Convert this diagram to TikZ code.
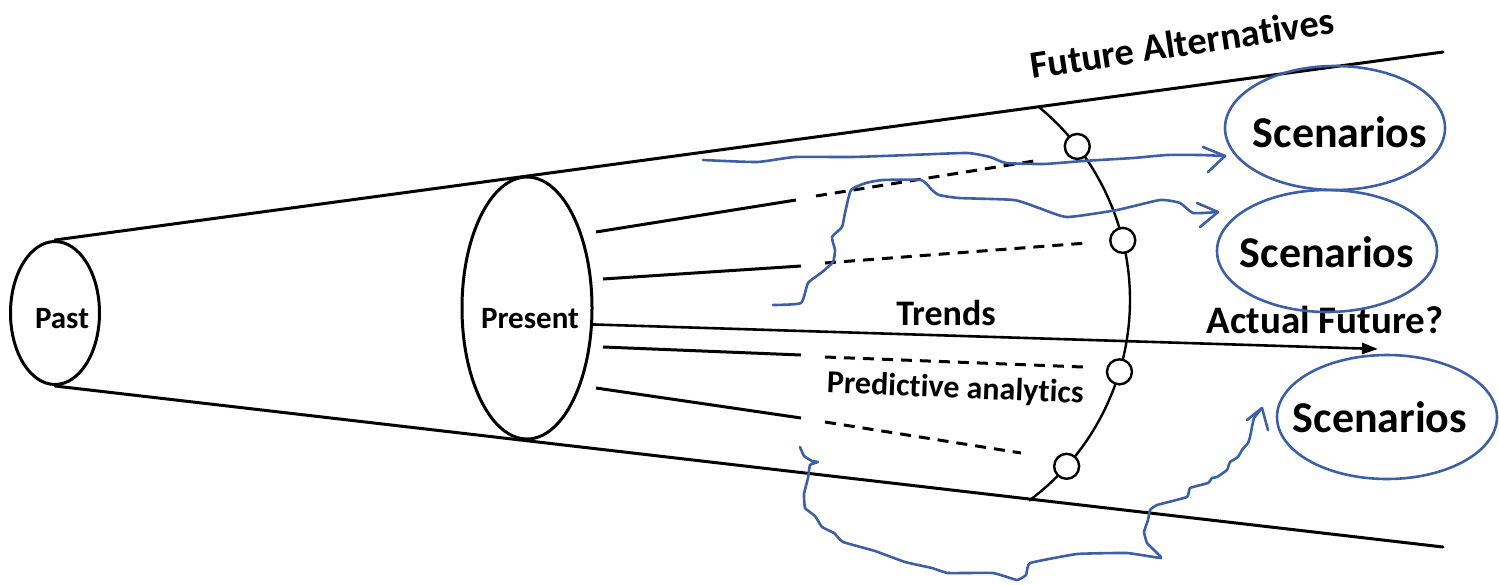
\documentclass[tikz,border=0pt]{standalone}
\usepackage{fontspec}
\setmainfont{Carlito}[Ligatures=NoCommon]
\usetikzlibrary{shapes.geometric,arrows.meta}
\definecolor{penblue}{RGB}{60,95,165}
\newcommand\lblsize[1]{\fontsize{#1}{#1}\selectfont}
\begin{document}
\begin{tikzpicture}[x=1pt,y=-1pt,
  cone/.style={line width=3pt,line cap=round},
  ring/.style={ellipse,draw,line width=3pt,inner sep=0pt},
  trend/.style={line width=3pt},
  proj/.style={line width=3pt,dash pattern=on 11pt off 8pt},
  pen/.style={draw=penblue,line width=2.6pt,line join=round,line cap=round},
  scen/.style={ellipse,draw=penblue,line width=2.6pt,minimum width=220pt,minimum height=124pt,inner sep=0pt},
  marker/.style={circle,draw,fill=white,line width=2.4pt,minimum size=25pt,inner sep=0pt},
  lbl/.style={font=\bfseries,inner sep=0pt,anchor=base}
]
\useasboundingbox (0,0) rectangle (1499,584);

% the cone: past and present cross-sections
\node[ring,minimum width=89pt,minimum height=143pt] (past) at (55,313) {};
\node[ring,minimum width=130pt,minimum height=262pt] (pres) at (527,308) {};
\coordinate (topend) at (1443,52);
\coordinate (botend) at (1443,547);
\draw[cone] (past.north) -- (topend);
\draw[cone] (past.south) -- (botend);

\node[lbl,font=\bfseries\lblsize{31}] (pastlbl) at (62,328) {Past};
\node[lbl,font=\bfseries\lblsize{31}] (preslbl) at (530,328) {Present};

% trend lines leaving the present, continued as projections
\draw[trend] (596,232) -- (796,200);
\draw[proj]  (816,196) -- (1034,161);
\draw[trend] (603,279) -- (801,266);
\draw[proj]  (825,263) -- (1087,243);
\draw[trend] (603,347) -- (801,355);
\draw[proj]  (825,357) -- (1083,367);
\draw[trend] (596,388) -- (801,418);
\draw[proj]  (825,422) -- (1021,453);

% horizon of future alternatives
\coordinate (hub) at (880,300);
\draw[line width=2.4pt] ([shift={(-50.5:250)}]hub) arc[start angle=-50.5,end angle=53.4,radius=250];
\node[marker] (m1) at ([shift={(-37.9:250)}]hub) {};
\node[marker] (m2) at ([shift={(-13.8:250)}]hub) {};
\node[marker] (m3) at ([shift={(16.7:250)}]hub) {};
\node[marker] (m4) at ([shift={(41.7:250)}]hub) {};

% main trend towards the actual future
\coordinate (fut) at (1378,349);
\draw[line width=2.6pt,-{Triangle[length=16pt,width=11pt]}] (pres.-14) -- (fut);

\node[lbl,font=\bfseries\lblsize{36}] (trends) at (946,325) {Trends};
\node[lbl,font=\bfseries\lblsize{39}] (actual) at (1325,333) {Actual Future?};
\node[lbl,font=\bfseries\lblsize{32},rotate=-2.3] (predict) at (955,398) {Predictive analytics};
\node[lbl,font=\bfseries\lblsize{38.5},rotate=8.5] (altern) at (1184,56) {Future Alternatives};

% scenarios
\node[scen] (s1) at (1335,128) {};
\node[scen,minimum height=122pt] (s2) at (1327,251) {};
\node[scen,minimum height=124pt] (s3) at (1387,417) {};
\node[lbl,font=\bfseries\lblsize{44}] (s1t) at (1340,147) {Scenarios};
\node[lbl,font=\bfseries\lblsize{44}] (s2t) at (1327,267) {Scenarios};
\node[lbl,font=\bfseries\lblsize{44}] (s3t) at (1380,432) {Scenarios};

% hand-drawn paths towards the scenarios
\coordinate (tipA) at (1225,156);
\coordinate (tipB) at (1218,212);
\coordinate (tipC) at (1262,408);
\draw[pen] plot[smooth,tension=0.3] coordinates {
  (703,160) (757,162) (795,157) (852,157) (910,155) (967,153) (990,157)
  (1006,163) (1044,164) (1083,161) (1133,158) (1167,155) (1200,155) (tipA)};
\draw[pen] (1203,147) -- (tipA) -- (1208,172);

\draw[pen] plot[smooth,tension=0.3] coordinates {
  (773,305) (801,303) (808,283) (821,273) (833,262) (835,250) (832,237)
  (842,227) (845,213) (851,190) (866,183) (883,180) (921,180) (932,190)
  (939,195) (959,198) (1014,200) (1039,208) (1067,217) (1117,210)
  (1160,200) (1180,203) (1193,213) (tipB)};
\draw[pen] (1197,203) -- (tipB) -- (1200,227);

\draw[pen] plot[smooth,tension=0.2] coordinates {
  (800,447) (804,456) (812,461) (818,462) (810,465) (808,478) (804,494)
  (805,508) (815,516) (822,527) (834,533) (843,542) (875,551) (905,562)
  (932,568) (948,573) (993,573) (1017,580) (1026,575) (1030,563)
  (1077,554) (1127,553) (1161,558) (1155,551) (1147,543) (1144,532)
  (1148,520) (1150,510) (1157,505) (1187,497) (1190,488) (1208,483)
  (1212,478) (1217,477) (1227,470) (1230,462) (1238,457) (1242,450)
  (1248,443) (1250,437) (1252,427) (1254,418) (tipC)};
\draw[pen] (1247,420) -- (tipC) -- (1268,430);
\end{tikzpicture}
\end{document}
